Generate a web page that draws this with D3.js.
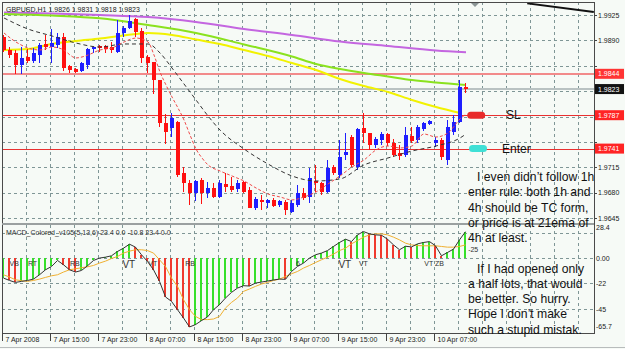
<!DOCTYPE html>
<html>
<head>
<meta charset="utf-8">
<script src="https://cdn.jsdelivr.net/npm/d3@7"></script>
<style>
html, body { margin: 0; padding: 0; background: #f6faf6; overflow: hidden; }
svg { display: block; font-family: "Liberation Sans", Arial, sans-serif; }
</style>
</head>
<body>
<div id="viz"></div>
<script>
// GBPUSD H1, bars from 7 Apr 07:00 to 10 Apr 12:00
const opens  = [1.9895,1.9877,1.9873,1.9856,1.9867,1.9862,1.9870,1.9885,1.9881,1.9884,1.9895,1.9855,1.9851,1.9848,1.9856,1.9878,1.9882,1.9882,1.9881,1.9874,
                1.9900,1.9907,1.9919,1.9903,1.9867,1.9860,1.9835,1.9776,1.9769,1.9778,1.9707,1.9694,1.9680,1.9698,1.9680,1.9687,1.9674,1.9692,1.9689,1.9685,
                1.9695,1.9684,1.9659,1.9670,1.9666,1.9670,1.9663,1.9667,1.9654,1.9663,1.9680,1.9674,1.9696,1.9694,1.9681,1.9716,1.9705,1.9732,1.9757,1.9716,
                1.9769,1.9763,1.9746,1.9753,1.9761,1.9749,1.9735,1.9732,1.9758,1.9753,1.9768,1.9775,1.9749,1.9753,1.9725,1.9764,1.9778,1.9826]
const highs  = [1.9897,1.9881,1.9877,1.9881,1.9878,1.9880,1.9886,1.9897,1.9906,1.9900,1.9900,1.9856,1.9852,1.9860,1.9880,1.9881,1.9884,1.9884,1.9888,1.9918,
                1.9910,1.9925,1.9921,1.9907,1.9870,1.9860,1.9835,1.9789,1.9790,1.9779,1.9716,1.9698,1.9698,1.9701,1.9695,1.9694,1.9698,1.9707,1.9702,1.9698,
                1.9696,1.9688,1.9674,1.9677,1.9672,1.9673,1.9670,1.9670,1.9670,1.9691,1.9687,1.9714,1.9718,1.9695,1.9725,1.9718,1.9753,1.9763,1.9760,1.9769,
                1.9790,1.9763,1.9757,1.9764,1.9763,1.9754,1.9746,1.9771,1.9771,1.9774,1.9778,1.9780,1.9757,1.9756,1.9780,1.9787,1.9835,1.9831]
const lows   = [1.9874,1.9866,1.9844,1.9844,1.9859,1.9859,1.9859,1.9877,1.9859,1.9880,1.9848,1.9845,1.9845,1.9847,1.9851,1.9873,1.9874,1.9873,1.9873,1.9873,
                1.9895,1.9906,1.9895,1.9859,1.9845,1.9816,1.9771,1.9747,1.9757,1.9702,1.9681,1.9663,1.9669,1.9665,1.9673,1.9673,1.9673,1.9681,1.9681,1.9681,
                1.9680,1.9659,1.9656,1.9656,1.9659,1.9661,1.9661,1.9650,1.9652,1.9661,1.9670,1.9666,1.9681,1.9677,1.9680,1.9705,1.9701,1.9725,1.9716,1.9712,
                1.9749,1.9739,1.9742,1.9746,1.9745,1.9729,1.9725,1.9729,1.9749,1.9749,1.9765,1.9774,1.9743,1.9725,1.9718,1.9760,1.9776,1.9818]
const closes = [1.9877,1.9870,1.9856,1.9866,1.9862,1.9873,1.9884,1.9881,1.9886,1.9895,1.9852,1.9849,1.9847,1.9859,1.9878,1.9881,1.9880,1.9878,1.9877,1.9900,
                1.9907,1.9917,1.9902,1.9866,1.9859,1.9835,1.9776,1.9764,1.9783,1.9705,1.9694,1.9680,1.9696,1.9680,1.9687,1.9674,1.9694,1.9688,1.9684,1.9694,
                1.9681,1.9659,1.9672,1.9667,1.9670,1.9662,1.9669,1.9656,1.9666,1.9680,1.9673,1.9701,1.9694,1.9681,1.9714,1.9707,1.9729,1.9736,1.9718,1.9768,
                1.9763,1.9746,1.9754,1.9761,1.9749,1.9732,1.9731,1.9760,1.9751,1.9771,1.9776,1.9779,1.9753,1.9729,1.9771,1.9778,1.9826,1.9823]

// moving averages, [bar, price]
const maPurple = [[0,1.99284],[8,1.99271],[16,1.9925],[24,1.99222],[32,1.99154],[40,1.99057],[48,1.98975],[56,1.98885],[64,1.98823],[72,1.98761],[77,1.98736]]
const maGreen  = [[0,1.99264],[8,1.99243],[16,1.99205],[24,1.99112],[32,1.99002],[40,1.98845],[48,1.98679],[52,1.98575],[56,1.98506],[60,1.98451],[64,1.98403],[68,1.98355],[72,1.98321],[77,1.98286]]
const maYellow = [[0,1.98768],[4,1.98782],[8,1.98851],[12,1.98892],[16,1.98926],[20,1.98968],[24,1.99002],[28,1.98975],[32,1.98913],[36,1.98851],[40,1.98768],
                  [44,1.98685],[48,1.98589],[52,1.98493],[56,1.98369],[60,1.98272],[64,1.9819],[68,1.9808],[72,1.97983],[76,1.97901]]
const maBlack  = [[0,1.99209],[4,1.99057],[8,1.98961],[12,1.98864],[16,1.98809],[20,1.98851],[24,1.98851],[26,1.98727],[28,1.9852],[30,1.983],[32,1.9808],
                  [34,1.9786],[36,1.97666],[40,1.97405],[44,1.97198],[48,1.97033],[52,1.96964],[56,1.96992],[60,1.97185],[64,1.97281],[68,1.97377],
                  [72,1.97446],[76,1.97556],[77,1.97611]]
const maRed    = [[0,1.99002],[2,1.98878],[4,1.98796],[6,1.98768],[8,1.98809],[10,1.98768],[11,1.98699],[12,1.98658],[13,1.98672],[14,1.98699],[16,1.98768],
                  [18,1.98796],[20,1.98878],[22,1.98933],[24,1.98878],[25,1.98699],[26,1.98465],[27,1.98286],[28,1.98121],[29,1.97969],[30,1.97804],
                  [31,1.97598],[32,1.97405],[33,1.97281],[34,1.97185],[36,1.97102],[38,1.97033],[40,1.96964],[42,1.96868],[44,1.96785],[46,1.96744],
                  [48,1.96703],[50,1.96744],[52,1.96813],[54,1.96923],[56,1.97033],[58,1.97157],[60,1.97253],[62,1.97391],[64,1.97446],[66,1.97419],
                  [68,1.97446],[70,1.97611],[72,1.9757],[74,1.97625],[76,1.97818],[77,1.97887]]

// MACD_Colored panel
const macd   = [-17.4,-19.5,-21.2,-20.3,-19.5,-18.3,-14.5,-10.1,-7.2,-1.9,-5.7,-10.1,-12.1,-10.7,-6.6,-1.9,0.2,1.0,2.2,6.0,
                8.9,12.4,9.8,3.1,-2.8,-10.1,-20.3,-34.0,-37.9,-45.2,-52.5,-60.4,-58.3,-54.8,-51.6,-45.2,-40.8,-34.9,-30.0,-26.2,
                -24.1,-24.4,-21.8,-20.9,-20.0,-19.1,-18.3,-18.5,-11.6,-7.2,-4.2,0.2,3.1,4.6,6.8,10.4,13.9,16.8,14.7,20.6,
                23.5,21.5,20.6,20.3,16.8,11.8,7.5,10.6,10.0,12.7,13.9,14.7,11.0,2.2,5.1,8.1,16.2,23.4]
const signal = [-14.5,-16.5,-18.9,-19.7,-20.3,-19.5,-18.3,-16.8,-15.4,-14.5,-12.1,-10.1,-9.2,-8.3,-7.5,-6.3,-4.2,-2.5,-0.2,1.6,
                4.6,6.3,7.5,7.5,6.8,4.6,-1.3,-7.2,-17.4,-24.7,-36.4,-45.2,-51.1,-53.9,-53.9,-53.4,-51.1,-43.7,-38.8,-34.9,
                -29.1,-27.0,-24.7,-22.6,-21.2,-19.5,-18.3,-16.0,-13.6,-11.6,-8.6,-6.3,-3.7,-1.3,1.0,3.7,6.8,8.9,12.7,15.6,
                18.6,20.6,21.5,21.5,20.6,18.6,16.2,13.3,11.8,11.2,11.0,11.0,11.0,10.4,9.8,9.8,10.4,11.8]
const macdMarks = [["VB",1.7,-6.5],["RT",4.75,-6.5],["RB",11.8,-6.5],["VT",20.8,-8.5],["VT",24.8,-6.5],["RB",31,-6.5],
                   ["6",49,-6.5],["VT",56.8,-8.5],["VT",59.9,-6.5],["VT ZB",71.7,-6.5],["-25",78.2,5.5]]

const timeLabels = ["7 Apr 2008","7 Apr 15:00","7 Apr 23:00","8 Apr 07:00","8 Apr 15:00","8 Apr 23:00","9 Apr 07:00","9 Apr 15:00","9 Apr 23:00","10 Apr 07:00"]
const priceTicks = [1.9925,1.9890,1.9855,1.9820,1.9785,1.9750,1.9715,1.9680,1.9645]
const macdGrid   = [22,0,-22,-45]
const macdLabels = [28.4,0,-22,-45,-65.7]
const levels     = [1.9844,1.9823,1.9787,1.9741]   // line, bid, SL, Enter
const tradeMarks = [[78.7,1.9787,"SL"],[79,1.9741,"Enter"]]
const trendLine  = [[87.2,1.9941],[98.3,1.9929]]
const noteLines  = ["I even didn\u2019t follow 1h","enter rule: both 1h and","4h should be TC form,","or price is at 21ema of","4h at least.","",
                    "If I had opened only","a half lots, that would","be better. So hurry.","Hope I don\u2019t make","such a stupid mistak."]

const width = 625, height = 349
const L = 2, R = 594, mainTop = 2, mainBot = 222, macdTop = 225, macdBot = 333
const bull = "#1e1eff", bear = "#ff1010", grid = "#7f9696"

const xs = d3.scaleLinear().domain([0, 98]).range([4, 592])
const ys = d3.scaleLinear().domain([1.9645, 1.9925]).range([218.3, 15])
const ym = d3.scaleLinear().domain([-65.7, 28.4]).range([333, 226])
const px = i => Math.round(xs(i))

const svg = d3.select("#viz").append("svg").attr("width", width).attr("height", height)
svg.append("rect").attr("width", width).attr("height", height).attr("fill", "#f6faf6")

const defs = svg.append("defs")
defs.append("clipPath").attr("id", "clipMain").append("rect")
    .attr("x", L + 1).attr("y", mainTop + 1).attr("width", R - L - 1).attr("height", mainBot - mainTop)
defs.append("clipPath").attr("id", "clipMacd").append("rect")
    .attr("x", L + 1).attr("y", macdTop + 1).attr("width", R - L - 1).attr("height", macdBot - macdTop - 1)

// grid
const gridG = svg.append("g").attr("stroke", grid).attr("stroke-dasharray", "3,3").attr("shape-rendering", "crispEdges")
d3.range(4, 98, 4).forEach(i => {
    gridG.append("line").attr("x1", px(i) - 1.5).attr("x2", px(i) - 1.5).attr("y1", mainTop).attr("y2", mainBot)
    gridG.append("line").attr("x1", px(i) - 1.5).attr("x2", px(i) - 1.5).attr("y1", macdTop).attr("y2", macdBot)
})
priceTicks.forEach(p => gridG.append("line").attr("x1", L).attr("x2", R).attr("y1", Math.round(ys(p)) + 0.5).attr("y2", Math.round(ys(p)) + 0.5))
macdGrid.forEach(v => gridG.append("line").attr("x1", L).attr("x2", R).attr("y1", Math.round(ym(v)) + 0.5).attr("y2", Math.round(ym(v)) + 0.5))

// main panel
const main = svg.append("g").attr("clip-path", "url(#clipMain)")

const levelStyle = [["#f28a8a", 2], ["#b9c2c2", 2], ["#e83030", 1], ["#e83030", 1]]
levels.forEach((p, k) => {
    const y = Math.round(ys(p)) + (levelStyle[k][1] === 1 ? 0.5 : 0)
    main.append("line").attr("x1", L).attr("x2", R).attr("y1", y).attr("y2", y)
        .attr("stroke", levelStyle[k][0]).attr("stroke-width", levelStyle[k][1])
})

const maLine = d3.line().x(d => xs(d[0])).y(d => ys(d[1])).curve(d3.curveMonotoneX)
main.append("path").attr("d", maLine(maPurple)).attr("fill", "none").attr("stroke", "#c466e0").attr("stroke-width", 2)
main.append("path").attr("d", maLine(maGreen)).attr("fill", "none").attr("stroke", "#8ae21e").attr("stroke-width", 2)
main.append("path").attr("d", maLine(maYellow)).attr("fill", "none").attr("stroke", "#f2f200").attr("stroke-width", 2)

main.append("path").attr("d", maLine(trendLine)).attr("fill", "none").attr("stroke", "#111").attr("stroke-width", 2)

const bars = d3.range(opens.length).map(i => ({ i, o: opens[i], h: highs[i], l: lows[i], c: closes[i] }))
const cg = main.append("g").attr("shape-rendering", "crispEdges")
cg.selectAll("rect.wick").data(bars).join("rect").attr("class", "wick")
    .attr("x", d => px(d.i) - 1).attr("width", 1)
    .attr("y", d => ys(d.h)).attr("height", d => Math.max(1, ys(d.l) - ys(d.h)))
    .attr("fill", d => d.c >= d.o ? bull : bear)
cg.selectAll("rect.body").data(bars).join("rect").attr("class", "body")
    .attr("x", d => px(d.i) - 2).attr("width", 4)
    .attr("y", d => ys(Math.max(d.o, d.c))).attr("height", d => Math.max(1.5, Math.abs(ys(d.o) - ys(d.c))))
    .attr("fill", d => d.c >= d.o ? bull : bear)

main.append("path").attr("d", maLine(maBlack)).attr("fill", "none").attr("stroke", "#333").attr("stroke-width", 1).attr("stroke-dasharray", "4,3")
main.append("path").attr("d", maLine(maRed)).attr("fill", "none").attr("stroke", "#f04a4a").attr("stroke-width", 1).attr("stroke-dasharray", "3,2")

// chart shift marker
main.append("path").attr("d", `M${xs(78.5) - 4},3 L${xs(78.5) + 4},3 L${xs(78.5)},7 Z`).attr("fill", "#8c9696")

// SL / Enter markers
const markColor = ["#e82a2a", "#3fe0d6"]
tradeMarks.forEach((m, k) => {
    svg.append("rect").attr("x", xs(m[0]) - 9).attr("y", ys(m[1]) - 3.5).attr("width", 18).attr("height", 7).attr("rx", 3.5)
        .attr("fill", markColor[k])
    svg.append("text").attr("x", k === 0 ? 506 : 502).attr("y", ys(m[1]) + 4).attr("font-size", 12).attr("fill", "#111").text(m[2])
})

// title
svg.append("text").attr("x", 6).attr("y", 12).attr("font-size", 7).attr("fill", "#222").text("GBPUSD,H1  1.9826 1.9831 1.9818 1.9823")

// MACD panel: histogram coloured by direction of the MACD value
const mg = svg.append("g").attr("clip-path", "url(#clipMacd)")
const z0 = Math.round(ym(0))
mg.append("g").attr("shape-rendering", "crispEdges").selectAll("rect").data(macd).join("rect")
    .attr("x", (d, i) => Math.floor((px(i) - 1) / 2) * 2).attr("width", 2)
    .attr("y", d => Math.min(z0, ym(d))).attr("height", d => Math.abs(ym(d) - z0))
    .attr("fill", (d, i) => (i > 0 && d < macd[i - 1]) ? "#f03a2e" : "#36e02a")
const mLine = d3.line().x((d, i) => px(i) - 0.5).y(d => ym(d))
mg.append("path").attr("d", mLine(signal)).attr("fill", "none").attr("stroke", "#f0b030").attr("stroke-width", 1)
mg.append("path").attr("d", mLine(macd)).attr("fill", "none").attr("stroke", "#333").attr("stroke-width", 1)
macdMarks.forEach(m => {
    mg.append("text").attr("x", xs(m[1])).attr("y", ym(m[2])).attr("text-anchor", "middle")
        .attr("font-size", m[2] < -7 ? 10 : 7).attr("fill", "#333").text(m[0])
})
svg.append("text").attr("x", 6).attr("y", 235).attr("font-size", 7).attr("fill", "#333")
    .text("MACD_Colored_v105(5,13,6) 23.4 0.0 -10.8 23.4 0.0")

// frame
const fr = svg.append("g").attr("stroke", "#4a4a4a").attr("fill", "none").attr("shape-rendering", "crispEdges")
fr.append("rect").attr("x", L + 0.5).attr("y", mainTop + 0.5).attr("width", R - L).attr("height", macdBot - mainTop)
fr.append("line").attr("x1", L).attr("x2", R).attr("y1", mainBot + 1.5).attr("y2", mainBot + 1.5).attr("stroke", "#9aa0a0").attr("stroke-width", 2)
fr.append("line").attr("x1", 0).attr("x2", width).attr("y1", 347.5).attr("y2", 347.5).attr("stroke", "#b8bcbc")

// price axis; tick labels hidden under the level boxes are skipped
const ax = svg.append("g").attr("font-size", 7).attr("fill", "#222")
priceTicks.forEach(p => {
    ax.append("line").attr("x1", R).attr("x2", R + 3).attr("y1", Math.round(ys(p)) + 0.5).attr("y2", Math.round(ys(p)) + 0.5).attr("stroke", "#444")
    if (levels.some(l => Math.abs(ys(l) - ys(p)) < 10)) return
    ax.append("text").attr("x", 598).attr("y", ys(p) + 2.5).text(p.toFixed(4))
})
const boxFill = ["#ff3434", "#121212", "#ff2424", "#ff2424"]
levels.forEach((p, k) => {
    ax.append("rect").attr("x", 595).attr("y", ys(p) - 5).attr("width", 29).attr("height", 10).attr("fill", boxFill[k])
    ax.append("text").attr("x", 598).attr("y", ys(p) + 2.5).attr("fill", "#fff").text(p.toFixed(4))
})
macdLabels.forEach((v, k) => {
    const y = k === 0 ? 230 : (k === macdLabels.length - 1 ? 329 : ym(v) + 2.5)
    ax.append("text").attr("x", 596).attr("y", y).text(v === 0 ? "0.00" : String(v))
})

// time axis
timeLabels.forEach((t, k) => {
    const x = px(k * 8) - 1.5
    ax.append("line").attr("x1", x).attr("x2", x).attr("y1", macdBot).attr("y2", macdBot + 8).attr("stroke", "#444")
    ax.append("text").attr("x", x + 3).attr("y", 342).text(t)
})

// trader notes
noteLines.forEach((t, k) => {
    svg.append("text").attr("x", (k === 0 || k === 6) ? 477 : 468).attr("y", 181 + k * 15.25)
        .attr("font-size", 12.2).attr("fill", "#111").text(t)
})
</script>
</body>
</html>
